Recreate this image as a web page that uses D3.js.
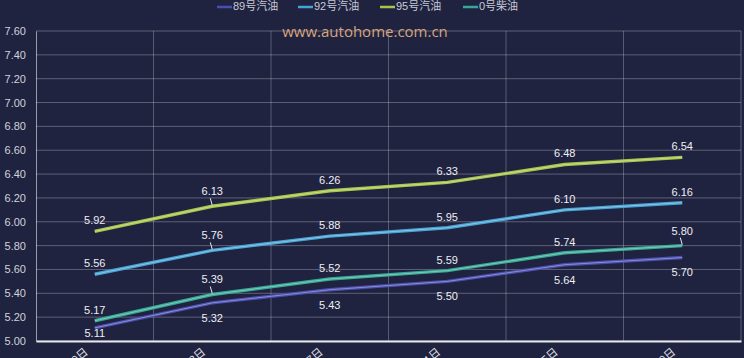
<!DOCTYPE html>
<html><head><meta charset="utf-8">
<script src="https://cdn.jsdelivr.net/npm/d3@7/dist/d3.min.js"></script>
<style>
html,body{margin:0;padding:0;background:#1f2340;overflow:hidden;}
svg{display:block;}
</style></head>
<body><svg id="c" width="744" height="358"></svg>
<script>
const categories = ["1月9日","1月23日","2月7日","2月21日","3月5日","3月19日"];
const seriesNames = ["89号汽油","92号汽油","95号汽油","0号柴油"];
const s89 = [5.11,5.32,5.43,5.50,5.64,5.70];
const s92 = [5.56,5.76,5.88,5.95,6.10,6.16];
const s95 = [5.92,6.13,6.26,6.33,6.48,6.54];
const s0  = [5.17,5.39,5.52,5.59,5.74,5.80];
const yTicks = [5.00,5.20,5.40,5.60,5.80,6.00,6.20,6.40,6.60,6.80,7.00,7.20,7.40,7.60];
const colors = ["#4a4eb0","#47a3d3","#a6c64a","#36a995"];
const labelBelow = [true,false,false,false];
const leaderIdx = [[],[1],[1],[1,5]];

const svg = d3.select("#c");
const W = 744, H = 358;
const m = {l:36, r:3, t:31, b:17};
const x = d3.scaleBand().domain(categories).range([m.l, W-m.r]);
const y = d3.scaleLinear().domain([5.0,7.6]).range([H-m.b, m.t]);
const font = "'Liberation Sans', 'Noto Sans CJK SC', sans-serif";

// horizontal grid
svg.append("g").selectAll("line").data(yTicks).join("line")
  .attr("x1", m.l).attr("x2", W-m.r)
  .attr("y1", d=>y(d)).attr("y2", d=>y(d))
  .attr("stroke","rgba(255,255,255,0.28)").attr("stroke-width",1);
// vertical grid at band boundaries
const bounds = categories.slice(1).map(c=>x(c)).concat([W-m.r]);
svg.append("g").selectAll("line").data(bounds).join("line")
  .attr("x1", d=>d).attr("x2", d=>d)
  .attr("y1", m.t).attr("y2", H-m.b)
  .attr("stroke","rgba(255,255,255,0.25)").attr("stroke-width",1);

// y axis
const ya = svg.append("g").attr("transform",`translate(${m.l},0)`)
  .call(d3.axisLeft(y).tickValues(yTicks).tickFormat(d3.format(".2f")).tickSize(0).tickPadding(10));
ya.select(".domain").attr("stroke","rgba(255,255,255,0.55)");
ya.selectAll("text").attr("fill","#d0d2dc").style("font-family",font).style("font-size","11px");

// x axis
const xa = svg.append("g").attr("transform",`translate(0,${H-m.b})`)
  .call(d3.axisBottom(x).tickSize(0).tickFormat(""));
xa.select(".domain").attr("stroke","#e8e8ee").attr("stroke-width",2);
svg.append("g").selectAll("text").data(categories).join("text")
  .attr("transform", d=>`translate(${x(d)+x.bandwidth()/2-8},${H-m.b+10}) rotate(-40)`)
  .attr("text-anchor","end").attr("dominant-baseline","middle")
  .attr("fill","#e0e0e8").style("font-family",font).style("font-size","11px")
  .text(d=>d);

// watermark
svg.append("text").attr("x",365).attr("y",37).attr("text-anchor","middle")
  .attr("fill","#d9a47c").style("font-family","'Open Sans', sans-serif").style("font-size","15px")
  .text("www.autohome.com.cn");

// series
const all = [s89,s92,s95,s0];
const cx = c => x(c)+x.bandwidth()/2;
const line = d3.line().x((d,i)=>cx(categories[i])).y(d=>y(d));
all.forEach((s,k)=>{
  svg.append("path").datum(s).attr("d",line).attr("fill","none")
    .attr("stroke",colors[k]).attr("stroke-width",3.4).attr("stroke-linejoin","round");
  svg.append("path").datum(s).attr("d",line).attr("fill","none")
    .attr("stroke","rgba(255,255,255,0.4)").attr("stroke-width",0.9);
});
all.forEach((s,k)=>{
  s.forEach((v,i)=>{
    const px = cx(categories[i]), py = y(v);
    let ly;
    const lead = leaderIdx[k].includes(i);
    if(labelBelow[k]) ly = Math.min(py+16, 334);
    else ly = py - (lead?14:10);
    if(lead){
      svg.append("line").attr("x1",px-2).attr("y1",ly+6).attr("x2",px).attr("y2",py-1)
        .attr("stroke","#e8e8ee").attr("stroke-width",1);
    }
    svg.append("text").attr("x",px).attr("y",ly).attr("text-anchor","middle")
      .attr("dominant-baseline","middle").attr("fill","#eeeef4")
      .style("font-family",font).style("font-size","11px")
      .text(d3.format(".2f")(v));
  });
});

// legend
const legX = [217,298,380,463];
const lg = svg.append("g");
seriesNames.forEach((n,k)=>{
  lg.append("line").attr("x1",legX[k]).attr("x2",legX[k]+15).attr("y1",7).attr("y2",7)
    .attr("stroke",colors[k]).attr("stroke-width",2.5);
  lg.append("text").attr("x",legX[k]+16).attr("y",7).attr("dominant-baseline","middle")
    .attr("fill","#c8cad6").style("font-family",font).style("font-size","11px").text(n);
});
</script></body></html>
